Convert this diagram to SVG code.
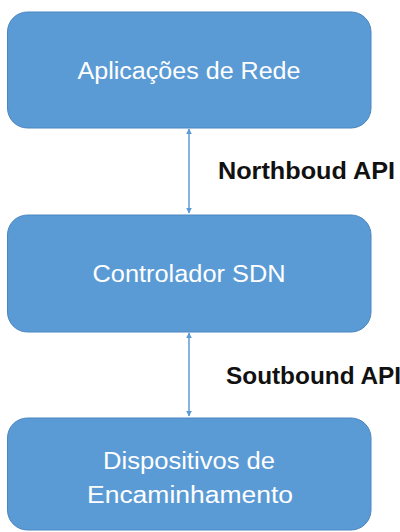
<svg xmlns="http://www.w3.org/2000/svg" width="400" height="532" viewBox="0 0 400 532">
<style>
.box{fill:#5B9BD5;stroke:#4A86BF;stroke-width:1}
.t{font-family:"Liberation Sans",Arial,sans-serif;font-size:23px;fill:#FFFFFF;text-anchor:middle}
.lbl{font-family:"Liberation Sans",Arial,sans-serif;font-size:23px;font-weight:bold;fill:#111111}
.con{stroke:#5B9BD5;stroke-width:1.5;fill:none;marker-start:url(#ah);marker-end:url(#ah)}
</style>
<defs>
<marker id="ah" viewBox="0 0 10 10" refX="9" refY="5" markerWidth="6" markerHeight="6" orient="auto-start-reverse" markerUnits="userSpaceOnUse">
<path d="M0,0 L10,5 L0,10 z" fill="#5B9BD5"/>
</marker>
</defs>
<rect width="400" height="532" fill="#FFFFFF"/>
<g id="connectors">
<line class="con" x1="189" y1="129" x2="189" y2="213"/>
<line class="con" x1="189" y1="333" x2="189" y2="416"/>
</g>
<g id="node-aplicacoes">
<rect class="box" x="7.5" y="12" width="363.5" height="116" rx="20"/>
<text class="t" x="189" y="79" textLength="223" lengthAdjust="spacingAndGlyphs">Aplicações de Rede</text>
</g>
<g id="node-controlador">
<rect class="box" x="7.5" y="215" width="363.5" height="117" rx="20"/>
<text class="t" x="189" y="282" textLength="193" lengthAdjust="spacingAndGlyphs">Controlador SDN</text>
</g>
<g id="node-dispositivos">
<rect class="box" x="7.5" y="418" width="363.5" height="112" rx="20"/>
<text class="t" x="189" y="469" textLength="172" lengthAdjust="spacingAndGlyphs">Dispositivos de</text>
<text class="t" x="190" y="503" textLength="206" lengthAdjust="spacingAndGlyphs">Encaminhamento</text>
</g>
<g id="labels">
<text class="lbl" x="218" y="179" textLength="177" lengthAdjust="spacingAndGlyphs">Northboud API</text>
<text class="lbl" x="226" y="384" textLength="175" lengthAdjust="spacingAndGlyphs">Soutbound API</text>
</g>
</svg>
